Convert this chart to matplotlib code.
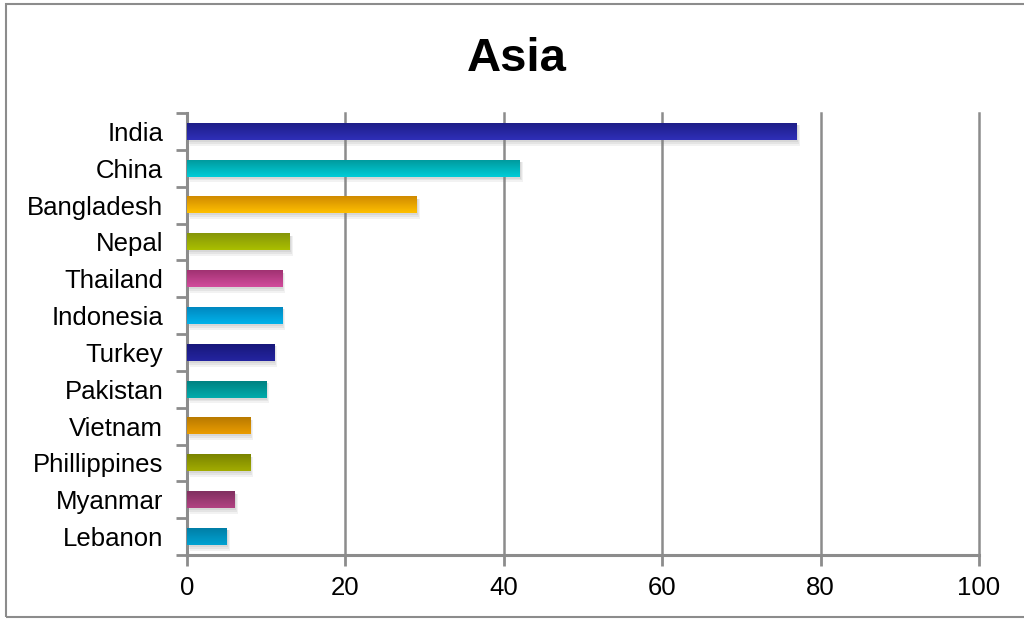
import numpy as np
import matplotlib
matplotlib.use('Agg')
import matplotlib.pyplot as plt
import matplotlib.transforms as mtransforms
from matplotlib.colors import LinearSegmentedColormap
from matplotlib.patches import Rectangle

plt.rcParams['font.family'] = ['Liberation Sans', 'DejaVu Sans']

# Chart data (top to bottom)
countries = ['India', 'China', 'Bangladesh', 'Nepal', 'Thailand', 'Indonesia',
             'Turkey', 'Pakistan', 'Vietnam', 'Phillippines', 'Myanmar', 'Lebanon']
values = [77, 42, 29, 13, 12, 12, 11, 10, 8, 8, 6, 5]
top_colors = ['#2f2fb8', '#00cdd8', '#ffc000', '#aabf00', '#d24c9c', '#00b2ea',
              '#2424a0', '#00acac', '#eb9c00', '#a2ac00', '#b24282', '#00a2d2']
bottom_colors = ['#1e1e88', '#009a9e', '#d08a00', '#86960a', '#a03272', '#0088c0',
                 '#18187a', '#008282', '#b87a00', '#7a8400', '#803060', '#007ea6']

fig = plt.figure(figsize=(10.24, 6.19), dpi=100)
ax = fig.add_axes([0.1826, 0.1034, 0.956 - 0.1826, 0.8174 - 0.1034])

y = np.arange(len(countries))
h = 0.45

# soft shadow behind bars
for k, (dx, dy, a) in enumerate([(3, -4, 0.10), (2, -3, 0.12), (1, -2, 0.12)]):
    tr = mtransforms.offset_copy(ax.transData, fig=fig, x=dx, y=dy, units='dots')
    ax.barh(y, values, height=h + 0.05 * (2 - k), color='#808080', alpha=a,
            transform=tr, zorder=2, linewidth=0)

bars = ax.barh(y, values, height=h, color='none', linewidth=0, zorder=3)
for b, c1, c2 in zip(bars, top_colors, bottom_colors):
    cmap = LinearSegmentedColormap.from_list('g', [c2, c1])
    x0, y0 = b.get_x(), b.get_y()
    w, hh = b.get_width(), b.get_height()
    grad = np.linspace(0, 1, 64).reshape(-1, 1)
    ax.imshow(grad, cmap=cmap, aspect='auto', origin='lower',
              extent=[x0, x0 + w, y0, y0 + hh], zorder=3)

ax.set_xlim(0, 100)
ax.set_ylim(len(countries) - 0.5, -0.5)
ax.set_xticks(range(0, 101, 20))
ax.set_yticks(y)
ax.set_yticklabels(countries)
ax.set_yticks(np.arange(-0.5, len(countries), 1), minor=True)

ax.grid(axis='x', color='#8c8c8c', linewidth=1.8, zorder=0)
for gl in ax.get_xgridlines():
    gl.set_clip_on(False)
ax.set_axisbelow(True)
for s in ['top', 'right']:
    ax.spines[s].set_visible(False)
for s in ['left', 'bottom']:
    ax.spines[s].set_color('#8c8c8c')
    ax.spines[s].set_linewidth(2.2)

ax.tick_params(axis='y', which='major', length=0, pad=17, labelsize=18.5)
ax.tick_params(axis='y', which='minor', length=8, width=2, color='#8c8c8c')
ax.tick_params(axis='x', which='major', length=8, width=2, color='#8c8c8c',
               labelsize=18.5, pad=7)

fig.text(0.505, 0.905, 'Asia', ha='center', va='center', fontsize=34,
         fontweight='bold')

fig.patches.append(Rectangle((6 / 1024, 2 / 619), 1.2, 1 - 6 / 619,
                             transform=fig.transFigure, fill=False,
                             edgecolor='#8c8c8c', linewidth=1.5))

fig.savefig('out.png', dpi=100)
